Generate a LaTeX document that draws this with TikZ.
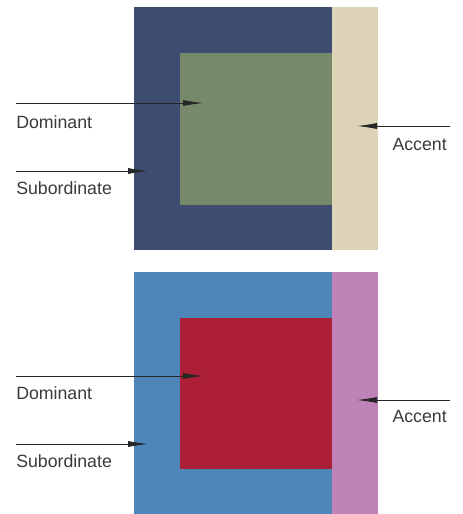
\documentclass[tikz,border=0pt]{standalone}
\usepackage{fontspec}
\setmainfont{Liberation Sans}
\usepackage{tikz}
\usetikzlibrary{arrows.meta,positioning,calc}
\definecolor{schemenavy}{HTML}{3E4C71}
\definecolor{schemegreen}{HTML}{76896B}
\definecolor{schemebeige}{HTML}{DDD4B8}
\definecolor{schemeblue}{HTML}{4E86B9}
\definecolor{schemered}{HTML}{AD1E37}
\definecolor{schemepink}{HTML}{C083B8}
\definecolor{labelgrey}{HTML}{3A3A3A}
\tikzset{
 role arrow/.style={-{Latex[length=15pt,width=4.5pt]},line width=.6pt,draw=black!85},
 role label/.style={inner sep=0pt,text=labelgrey,font=\fontsize{13.3}{15}\selectfont},
}

\begin{document}
\begin{tikzpicture}[x=.75pt,y=-.75pt]
\useasboundingbox (0,0) rectangle (463,514);
% upper scheme
\fill[schemenavy] (134,7) rectangle (332,250);
\fill[schemebeige] (332,7) rectangle (378,250);
\fill[schemegreen] (180,53) rectangle (332,205);
\node[role label,anchor=base west] (dominant1) at (16,128) {Dominant};
\node[role label,anchor=base west] (subordinate1) at (16,194) {Subordinate};
\node[role label,anchor=base east] (accent1) at (447,150) {Accent};
\coordinate (dominant1 tail) at (16,103);
\coordinate (dominant1 tip) at (203,103);
\coordinate (subordinate1 tail) at (16,171);
\coordinate (subordinate1 tip) at (148,171);
\coordinate (accent1 tail) at (450,126);
\coordinate (accent1 tip) at (357,126);
\draw[role arrow] (dominant1 tail)--(dominant1 tip);
\draw[role arrow] (subordinate1 tail)--(subordinate1 tip);
\draw[role arrow] (accent1 tail)--(accent1 tip);
% lower scheme
\fill[schemeblue] (134,272) rectangle (332,514);
\fill[schemepink] (332,272) rectangle (378,514);
\fill[schemered] (180,318) rectangle (332,469);
\node[role label,anchor=base west] (dominant2) at (16,399) {Dominant};
\node[role label,anchor=base west] (subordinate2) at (16,467) {Subordinate};
\node[role label,anchor=base east] (accent2) at (447,422) {Accent};
\coordinate (dominant2 tail) at (16,376);
\coordinate (dominant2 tip) at (203,376);
\coordinate (subordinate2 tail) at (16,444);
\coordinate (subordinate2 tip) at (148,444);
\coordinate (accent2 tail) at (450,400);
\coordinate (accent2 tip) at (357,400);
\draw[role arrow] (dominant2 tail)--(dominant2 tip);
\draw[role arrow] (subordinate2 tail)--(subordinate2 tip);
\draw[role arrow] (accent2 tail)--(accent2 tip);
\end{tikzpicture}
\end{document}
